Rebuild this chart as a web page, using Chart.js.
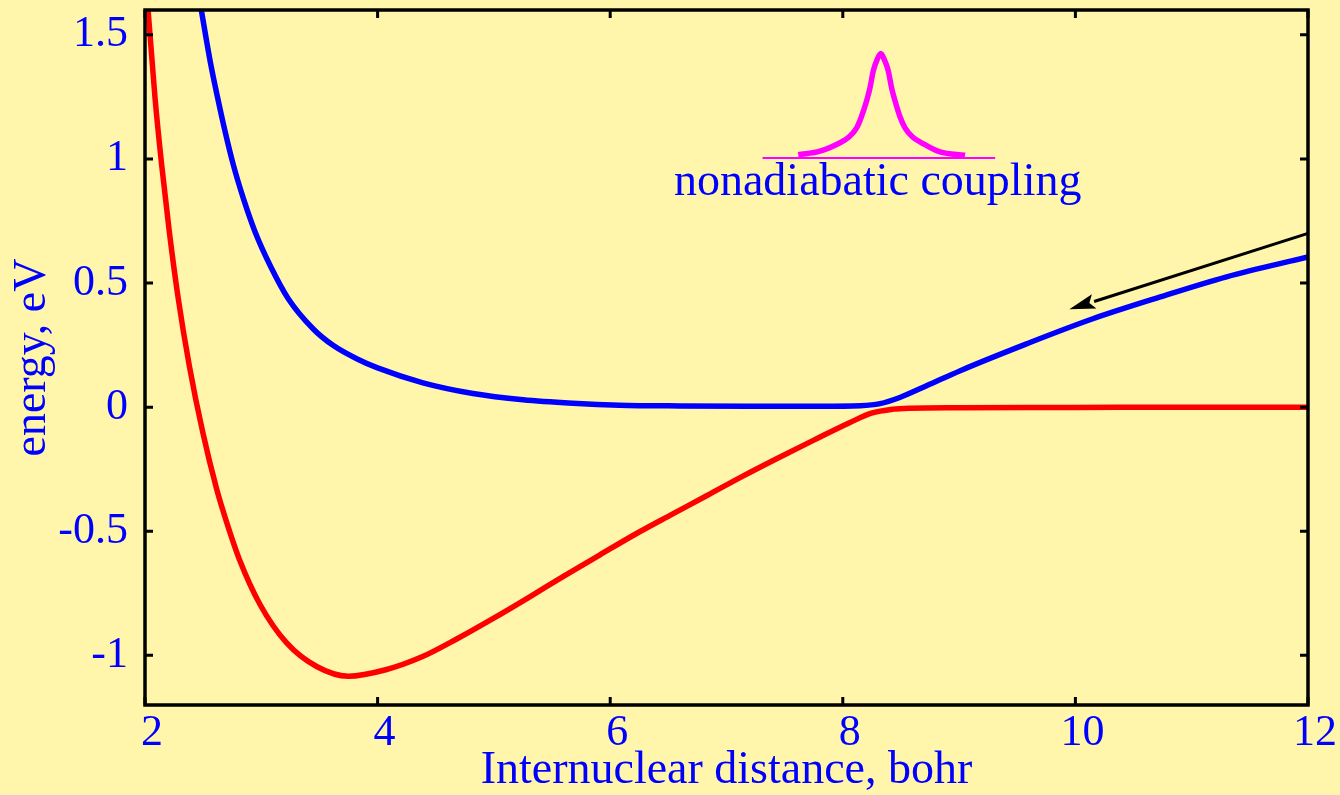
<!DOCTYPE html>
<html>
<head>
<meta charset="utf-8">
<script src="https://cdn.jsdelivr.net/npm/chart.js@4.4.1/dist/chart.umd.min.js"></script>
<style>
  html, body { margin: 0; padding: 0; background: #fff6ab; }
  #wrap { width: 1340px; height: 795px; }
</style>
</head>
<body>
<div id="wrap"><canvas id="pot_chart" width="1340" height="795"></canvas></div>
<script>
// values (x in bohr, y in eV)
const lowerX = [2.02, 2.086, 2.143, 2.209, 2.286, 2.381, 2.496, 2.616, 2.703, 2.817, 2.989, 3.218, 3.476, 3.748, 4.07, 4.377, 4.684, 4.991, 5.298, 5.605, 5.912, 6.219, 6.526, 6.833, 7.141, 7.448, 7.755, 8.062, 8.246, 8.431, 8.578, 9.0, 10.0, 11.0, 12.0]
const lowerY = [1.64, 1.247, 0.977, 0.707, 0.437, 0.167, -0.10, -0.33, -0.465, -0.62, -0.795, -0.95, -1.045, -1.084, -1.058, -1.007, -0.933, -0.852, -0.767, -0.68, -0.595, -0.511, -0.433, -0.356, -0.278, -0.204, -0.132, -0.062, -0.024, -0.008, -0.004, -0.002, -0.001, 0, 0]

const upperX = [2.475, 2.565, 2.622, 2.688, 2.759, 2.845, 2.946, 3.075, 3.232, 3.447, 3.62, 3.82, 4.0, 4.39, 4.82, 5.25, 5.68, 6.08, 6.6, 7.2, 7.8, 8.15, 8.32, 8.49, 8.72, 9.01, 9.58, 10.15, 10.73, 11.3, 12.0]
const upperY = [1.625, 1.382, 1.252, 1.112, 0.977, 0.842, 0.707, 0.572, 0.437, 0.315, 0.248, 0.195, 0.158, 0.098, 0.055, 0.03, 0.016, 0.008, 0.005, 0.004, 0.004, 0.006, 0.014, 0.039, 0.086, 0.147, 0.255, 0.356, 0.444, 0.525, 0.605]

// little inset: coupling peak and its baseline
const couplingX = [7.617, 7.804, 7.976, 8.05, 8.119, 8.16, 8.205, 8.235, 8.262, 8.295, 8.326, 8.357, 8.391, 8.42, 8.449, 8.49, 8.535, 8.6, 8.678, 8.836, 9.051]
const couplingY = [1.017, 1.031, 1.065, 1.087, 1.125, 1.17, 1.234, 1.289, 1.355, 1.40, 1.425, 1.40, 1.355, 1.285, 1.234, 1.172, 1.125, 1.088, 1.065, 1.028, 1.015]
const couplingBaseX = [7.31, 9.31]
const couplingBaseY = [1.004, 1.004]
const couplingLabel = 'nonadiabatic coupling'
const couplingLabelPos = [8.3, 0.854]

// arrow: from (12, 0.70) towards the tip
const arrowX = [12.0, 9.948]
const arrowY = [0.70, 0.394]

const xTicks = [2, 4, 6, 8, 10, 12]
const yTicks = [-1, -0.5, 0, 0.5, 1, 1.5]

const FONT = "'Liberation Serif', 'Times New Roman', serif"
const BLUE = '#0000ff'

const toPoints = (xs, ys) => xs.map((x, i) => ({ x: x, y: ys[i] }))

const framePlugin = {
    id: 'frame',
    beforeDraw: (chart) => {
        const ctx = chart.ctx
        ctx.save()
        ctx.fillStyle = '#fff6ab'
        ctx.fillRect(0, 0, chart.width, chart.height)
        ctx.restore()
    },
    afterDatasetsDraw: (chart) => {
        const ctx = chart.ctx
        const a = chart.chartArea
        const xs = chart.scales.x
        const ys = chart.scales.y
        ctx.save()

        // arrow
        const x0 = xs.getPixelForValue(arrowX[0]), y0 = ys.getPixelForValue(arrowY[0])
        const x1 = xs.getPixelForValue(arrowX[1]), y1 = ys.getPixelForValue(arrowY[1])
        const ang = Math.atan2(y1 - y0, x1 - x0)
        const headLen = 26, headW = 7.5
        const bx = x1 - headLen * Math.cos(ang), by = y1 - headLen * Math.sin(ang)
        ctx.strokeStyle = '#000'
        ctx.lineWidth = 3
        ctx.beginPath()
        ctx.moveTo(x0, y0)
        ctx.lineTo(bx, by)
        ctx.stroke()
        ctx.fillStyle = '#000'
        ctx.beginPath()
        ctx.moveTo(x1, y1)
        ctx.lineTo(bx - headW * Math.sin(ang), by + headW * Math.cos(ang))
        ctx.lineTo(bx + 5 * Math.cos(ang), by + 5 * Math.sin(ang))
        ctx.lineTo(bx + headW * Math.sin(ang), by - headW * Math.cos(ang))
        ctx.closePath()
        ctx.fill()

        // label of the inset
        ctx.fillStyle = BLUE
        ctx.font = `46px ${FONT}`
        ctx.textAlign = 'center'
        ctx.textBaseline = 'alphabetic'
        ctx.fillText(couplingLabel, xs.getPixelForValue(couplingLabelPos[0]), ys.getPixelForValue(couplingLabelPos[1]))

        // frame and inward ticks on all four sides
        ctx.strokeStyle = '#000'
        ctx.lineWidth = 3.5
        ctx.strokeRect(a.left, a.top, a.right - a.left, a.bottom - a.top)
        ctx.lineWidth = 3
        const tl = 8
        ctx.beginPath()
        xTicks.forEach(v => {
            const px = xs.getPixelForValue(v)
            ctx.moveTo(px, a.bottom); ctx.lineTo(px, a.bottom - tl)
            ctx.moveTo(px, a.top); ctx.lineTo(px, a.top + tl)
        })
        yTicks.forEach(v => {
            const py = ys.getPixelForValue(v)
            ctx.moveTo(a.left, py); ctx.lineTo(a.left + tl, py)
            ctx.moveTo(a.right, py); ctx.lineTo(a.right - tl, py)
        })
        ctx.stroke()
        ctx.restore()
    }
}

const line = (label, pts, color, width) => ({
    label: label,
    data: pts,
    borderColor: color,
    backgroundColor: color,
    borderWidth: width,
    pointRadius: 0,
    cubicInterpolationMode: 'monotone',
    fill: false,
})

let canvas = document.getElementById('pot_chart')
const config = {
    type: 'line',
    data: {
        datasets: [
            line('coupling base', toPoints(couplingBaseX, couplingBaseY), '#ff00ff', 2),
            line('coupling', toPoints(couplingX, couplingY), '#ff00ff', 5.5),
            line('upper', toPoints(upperX, upperY), BLUE, 5.5),
            line('lower', toPoints(lowerX, lowerY), '#ff0000', 5.5),
        ]
    },
    options: {
        responsive: false,
        animation: false,
        layout: { padding: { top: 10, right: 32, left: 0, bottom: 0 } },
        plugins: {
            legend: { display: false },
            tooltip: { enabled: false },
        },
        scales: {
            x: {
                type: 'linear',
                min: 2,
                max: 12,
                grid: { display: false, drawTicks: false },
                border: { display: false },
                afterBuildTicks: (scale) => { scale.ticks = xTicks.map(v => ({ value: v })) },
                afterFit: (scale) => {
                    scale.height = 90
                    scale.paddingLeft = 0
                    scale.paddingRight = 0
                },
                ticks: {
                    color: BLUE,
                    font: { family: FONT, size: 44 },
                    padding: 2,
                    labelOffset: 7,
                    maxRotation: 0,
                    callback: (v) => String(v),
                },
                title: {
                    display: true,
                    text: 'Internuclear distance, bohr',
                    color: BLUE,
                    font: { family: FONT, size: 46 },
                    padding: { top: 0, bottom: -4 },
                }
            },
            y: {
                type: 'linear',
                min: -1.2,
                max: 1.6,
                grid: { display: false, drawTicks: false },
                border: { display: false },
                afterBuildTicks: (scale) => { scale.ticks = yTicks.map(v => ({ value: v })) },
                afterFit: (scale) => {
                    scale.width = 145
                    scale.paddingTop = 0
                    scale.paddingBottom = 0
                },
                ticks: {
                    color: BLUE,
                    font: { family: FONT, size: 44 },
                    padding: 17,
                    callback: (v) => String(v),
                },
                title: {
                    display: true,
                    text: 'energy, eV',
                    color: BLUE,
                    font: { family: FONT, size: 46 },
                    padding: { top: 5, bottom: 0 },
                }
            }
        }
    },
    plugins: [framePlugin]
}
new Chart(canvas, config)
</script>
</body>
</html>
